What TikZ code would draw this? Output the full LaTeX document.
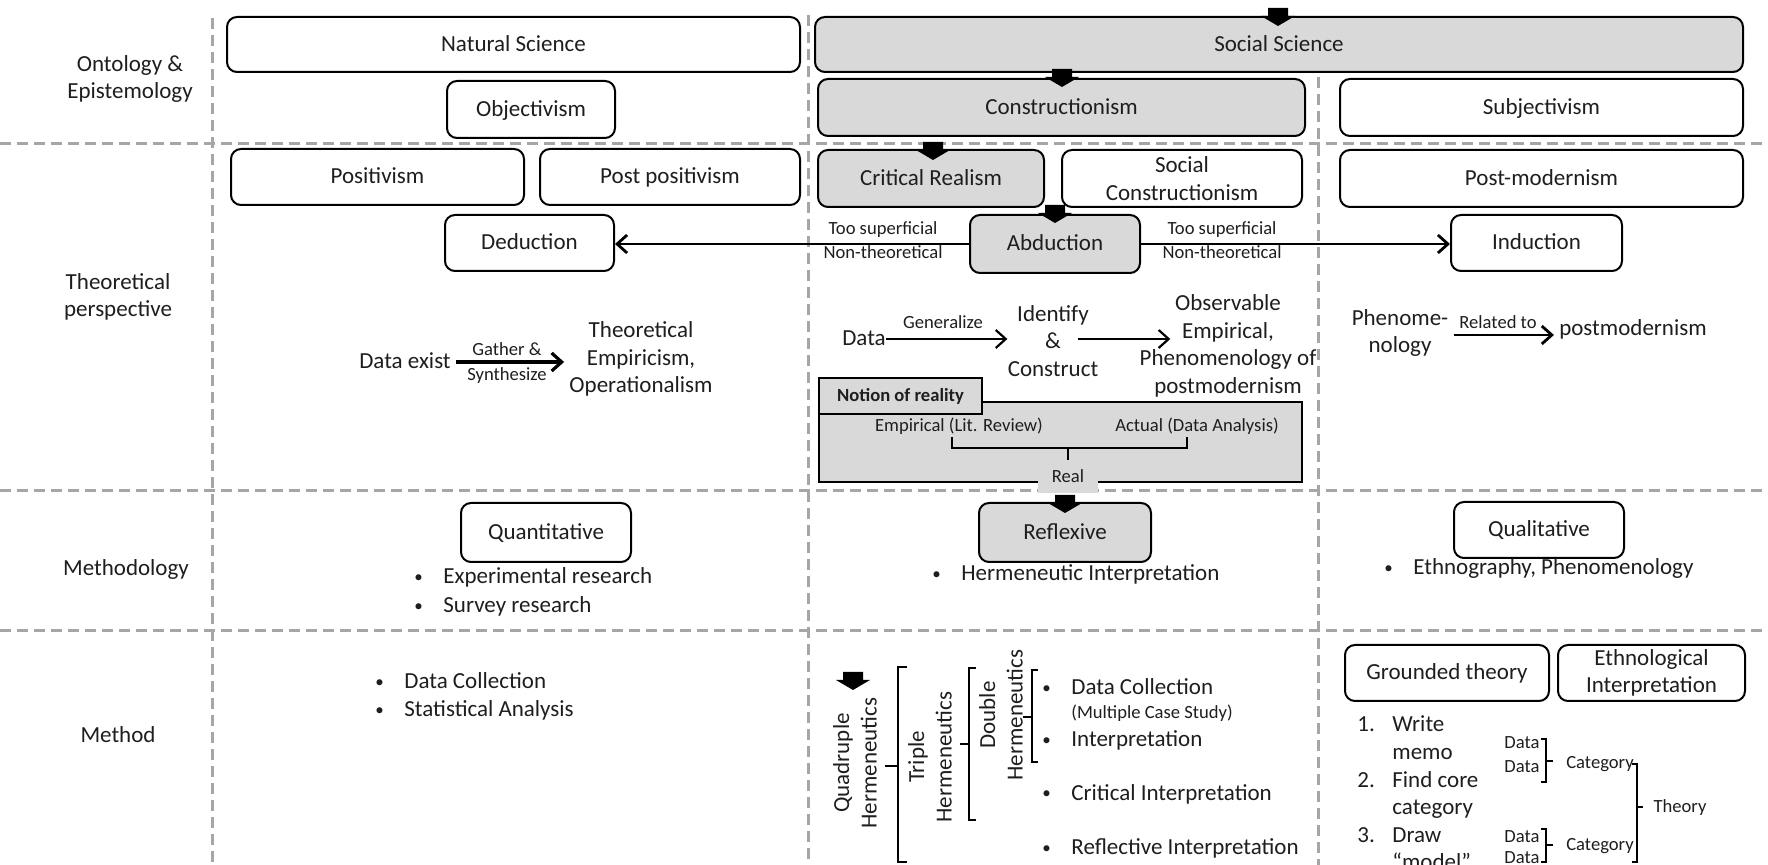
\documentclass[tikz,border=0pt]{standalone}
\usepackage{fontspec}
\setmainfont{Carlito}
\usetikzlibrary{arrows.meta,calc}
\definecolor{boxgray}{RGB}{217,217,217}
\definecolor{gridgray}{RGB}{166,166,166}
\definecolor{ink}{RGB}{30,30,30}
\newcommand\mainsz{\fontsize{11.5}{13.8}\selectfont}
\newcommand\smallsz{\fontsize{9.3}{11}\selectfont}
\newcommand\bulletmark{\makebox[14.5pt][l]{\raisebox{0.9pt}{\fontsize{8.5}{9}\selectfont\textbullet}}}
\begin{document}
\begin{tikzpicture}[x=0.5pt,y=-0.5pt,
  every node/.style={text=ink, font=\mainsz},
  grid/.style={draw=gridgray, line width=1.5pt, dash pattern=on 5.5pt off 3pt},
  sz/.style 2 args={minimum width=#1*0.5pt, minimum height=#2*0.5pt},
  box/.style={draw=black, line width=1pt, rounded corners=5pt, fill=white, inner sep=0pt, align=center},
  gbox/.style={box, fill=boxgray},
  plate/.style={draw=black, line width=1pt, fill=boxgray, inner sep=0pt},
  one/.style={text height=8pt, text depth=1pt},
  sone/.style={font=\smallsz, text height=6.5pt, text depth=0.8pt},
  lbl/.style={align=center, inner sep=2.5pt},
  bul/.style={anchor=west, inner sep=0pt, one},
  conn/.style={draw=black, line width=1.4pt, -{Straight Barb[length=5pt,width=9pt]}},
  brace/.style={draw=black, line width=1.4pt},
  downarr/.pic={\fill[black] (-10,0) -- (10,0) -- (10,8) -- (17,8) -- (0,18) -- (-17,8) -- (-10,8) -- cycle;}
]
\useasboundingbox (0,0) rectangle (1768,865);

% ---------- grid ----------
\draw[grid] (0,144) -- (1768,144);
\draw[grid] (0,491) -- (1768,491);
\draw[grid] (0,631) -- (1768,631);
\draw[grid] (212,18) -- (212,865);
\draw[grid] (808,15) -- (808,865);
\draw[grid] (1318,77) -- (1318,865);

% ---------- row labels ----------
\node[lbl] (lOnt) at (130,79) {Ontology \&\\Epistemology};
\node[lbl] (lTheo) at (118,297) {Theoretical\\perspective};
\node[lbl, one] (lMethodology) at (126,569) {Methodology};
\node[lbl, one] (lMethod) at (118,736) {Method};

% ---------- ontology & epistemology ----------
\node[box, one, sz={573}{55}] (natsci) at (513.5,44.5) {Natural Science};
\node[gbox, one, sz={928}{55}] (socsci) at (1279,44.5) {Social Science};
\node[box, one, sz={168}{57}] (objectivism) at (531,109.5) {Objectivism};
\node[gbox, one, sz={487}{57}] (constructionism) at (1061.5,107.5) {Constructionism};
\node[box, one, sz={403}{57}] (subjectivism) at (1541.5,107.5) {Subjectivism};

% ---------- theoretical perspective ----------
\node[box, one, sz={293}{56}] (positivism) at (377.5,177) {Positivism};
\node[box, one, sz={260}{56}] (postpositivism) at (670,177) {Post positivism};
\node[gbox, one, sz={226}{57}] (critreal) at (931,178.5) {Critical Realism};
\node[box, sz={240}{57}] (socconstr) at (1182,178.5) {Social\\Constructionism};
\node[box, one, sz={403}{57}] (postmod) at (1541.5,178.5) {Post-modernism};
\node[box, one, sz={169}{56}] (deduction) at (529.5,243) {Deduction};
\node[gbox, one, sz={170}{58}] (abduction) at (1055,244) {Abduction};
\node[box, one, sz={171}{56}] (induction) at (1536.5,243) {Induction};

\draw[conn] (abduction.west) -- (abduction.west -| deduction.east);
\draw[conn] (abduction.east) -- (abduction.east -| induction.west);
\node[sone] (ts1) at (883,229) {Too superficial};
\node[sone] (nt1) at (883,253) {Non-theoretical};
\node[sone] (ts2) at (1222,229) {Too superficial};
\node[sone] (nt2) at (1222,253) {Non-theoretical};

% deduction chain
\node[lbl, one] (dataexist) at (405,362) {Data exist};
\node[lbl] (theoemp) at (641,359) {Theoretical\\Empiricism,\\Operationalism};
\draw[conn, line width=1.6pt] (dataexist.east) -- (dataexist.east -| theoemp.west);
\node[sone] (gather) at (507,350) {Gather \&};
\node[sone] (synth) at (507,375) {Synthesize};

% abduction chain
\node[one, inner sep=0pt] (data) at (864,339) {Data};
\node[align=center, inner sep=0pt] (idc) at (1053,341) {Identify\\\&\\Construct};
\node[align=center, inner sep=0pt] (obs) at (1228,346) {Observable\\Empirical,\\Phenomenology of\\postmodernism};
\draw[conn, line width=1.1pt] (data.east) -- (data.east -| idc.west);
\draw[conn, line width=1.1pt] ($(idc.east |- data.east)+(-21,0)$) -- ($(obs.west |- data.east)+(31,0)$);
\node[sone] (gen) at (943,323) {Generalize};

% induction chain
\node[lbl] (phen) at (1400,333) {Phenome-\\nology};
\node[lbl, one] (pm) at (1633,329) {postmodernism};
\draw[conn] ($(phen.east)+(0,2)$) -- ($(phen.east -| pm.west)+(0,2)$);
\node[sone] (rel) at (1498,323) {Related to};

% notion of reality
\node[plate, sz={483}{80}] (reality) at (1060.5,442) {};
\node[plate, sz={163}{36}, font=\smallsz\bfseries, text height=6.5pt, text depth=0.8pt] (notion) at (900.5,396) {Notion of reality};
\node[sone] (emp) at (959,426) {Empirical (Lit. Review)};
\node[sone] (act) at (1197,426) {Actual (Data Analysis)};
\draw[brace] (952,437) -- (952,448) -- (1187,448) -- (1187,437);
\draw[brace] (1068,448) -- (1068,460);
\node[fill=boxgray, inner sep=0pt, sone, sz={60}{33}] (real) at (1068,476.5) {Real};

% ---------- methodology ----------
\node[box, one, sz={170}{59}] (quant) at (546,532.5) {Quantitative};
\node[gbox, one, sz={172}{59}] (reflexive) at (1065,532.5) {Reflexive};
\node[box, one, sz={170}{56}] (qual) at (1539,530) {Qualitative};
\node[bul] (b1) at (414,577) {\bulletmark Experimental research};
\node[bul] (b2) at (414,606) {\bulletmark Survey research};
\node[bul] (b3) at (932,574) {\bulletmark Hermeneutic Interpretation};
\node[bul] (b4) at (1384,568) {\bulletmark Ethnography, Phenomenology};

% ---------- method ----------
\node[bul] (b5) at (375,682) {\bulletmark Data Collection};
\node[bul] (b6) at (375,710) {\bulletmark Statistical Analysis};

% hermeneutic layers
\node[align=center, inner sep=0pt, rotate=90] (quad) at (855,763) {Quadruple\\Hermeneutics};
\node[align=center, inner sep=0pt, rotate=90] (trip) at (930,757) {Triple\\Hermeneutics};
\node[align=center, inner sep=0pt, rotate=90] (dbl) at (1001,715) {Double\\Hermeneutics};
\draw[brace] (907,667) -- (898,667) -- (898,862) -- (907,862);
\draw[brace] (885,766) -- (898,766);
\draw[brace] (976,668) -- (969,668) -- (969,820) -- (976,820);
\draw[brace] (960,744) -- (969,744);
\draw[brace] (1038,670) -- (1032,670) -- (1032,762) -- (1038,762);
\draw[brace] (1023,717) -- (1032,717);
\node[bul] (h1) at (1042,688) {\bulletmark Data Collection};
\node[anchor=west, inner sep=0pt, sone] (msc) at (1071,713) {(Multiple Case Study)};
\node[bul] (h2) at (1042,740) {\bulletmark Interpretation};
\node[bul] (h3) at (1042,793) {\bulletmark Critical Interpretation};
\node[bul] (h4) at (1042,848) {\bulletmark Reflective Interpretation};

% grounded theory
\node[box, one, sz={204}{56}] (grounded) at (1447,673) {Grounded theory};
\node[box, sz={187}{56}] (ethno) at (1651.5,673) {Ethnological\\Interpretation};
\node[anchor=base west, inner sep=0pt] (steps) at (1357,732)
  {\begin{tabular}[t]{@{}p{17.5pt}@{}l@{}}1.&Write\\&memo\\2.&Find core\\&category\\3.&Draw\\&“model”\end{tabular}};
\node[sone] (d1) at (1522,743) {Data};
\node[sone] (d2) at (1522,767) {Data};
\draw[brace] (1541,739) -- (1546,739) -- (1546,782) -- (1541,782);
\draw[brace] (1546,761) -- (1553,761);
\node[sone] (cat1) at (1600,763) {Category};
\node[sone] (d3) at (1522,837) {Data};
\node[sone] (d4) at (1522,858) {Data};
\draw[brace] (1541,829) -- (1546,829) -- (1546,862) -- (1541,862);
\draw[brace] (1546,845) -- (1553,845);
\node[sone] (cat2) at (1600,845) {Category};
\draw[brace] (1632,764) -- (1637,764) -- (1637,862) -- (1632,862);
\draw[brace] (1637,807) -- (1643,807);
\node[sone] (theory) at (1680,807) {Theory};

% ---------- block arrows ----------
\pic at (1278,8) {downarr};
\pic at (1062,69) {downarr};
\pic at (933,142) {downarr};
\pic at (1055,205) {downarr};
\pic at (1065,495) {downarr};
\pic at (853,672) {downarr};
\end{tikzpicture}
\end{document}
